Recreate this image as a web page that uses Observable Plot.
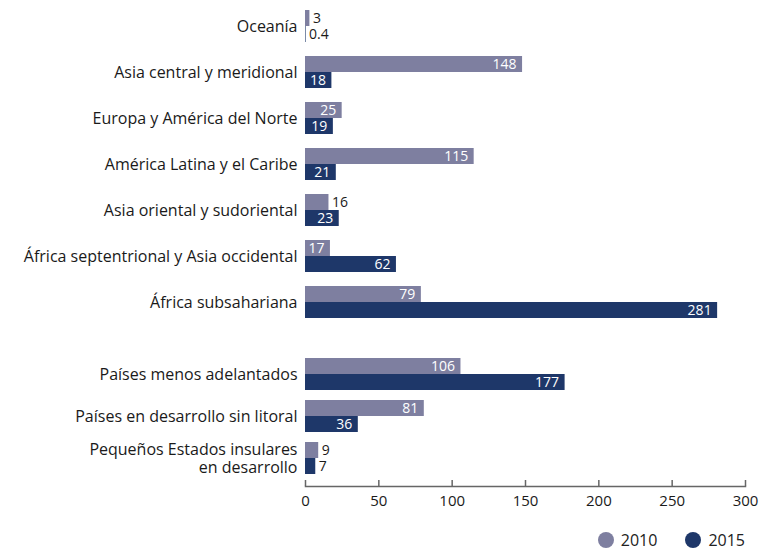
<!DOCTYPE html>
<html>
<head>
<meta charset="utf-8">
<script src="https://cdn.jsdelivr.net/npm/d3@7"></script>
<script src="https://cdn.jsdelivr.net/npm/@observablehq/plot@0.6"></script>
<style>
  body { margin: 0; background: #fff; font-family: "Open Sans", sans-serif; }
  #chart { width: 763px; }
  #chart svg { display: block; overflow: visible; }
  .legend { display: flex; justify-content: flex-end; align-items: center; padding-right: 18px; height: 18px; line-height: 18px; margin-top: 14px; font-size: 16px; color: #222; }
  .legend .item { display: flex; align-items: center; margin-left: 28px; }
  .legend .dot { width: 16px; height: 16px; border-radius: 50%; margin-right: 7px; }
</style>
</head>
<body>
<div id="chart"></div>
<script>
const regions = ["Oceanía", "Asia central y meridional", "Europa y América del Norte", "América Latina y el Caribe", "Asia oriental y sudoriental", "África septentrional y Asia occidental", "África subsahariana"];
const regions2010 = [3, 148, 25, 115, 16, 17, 79];
const regions2015 = [0.4, 18, 19, 21, 23, 62, 281];
const groups = ["Países menos adelantados", "Países en desarrollo sin litoral", "Pequeños Estados insulares\nen desarrollo"];
const groups2010 = [106, 81, 9];
const groups2015 = [177, 36, 7];
const years = ["2010", "2015"];
const colors = ["#7e7fa0", "#1e3769"];
const xTicks = [0, 50, 100, 150, 200, 250, 300];

const FONT = "'Open Sans', sans-serif";

function rowsOf(cats, v10, v15) {
  const rows = [];
  cats.forEach((c, i) => {
    rows.push({cat: c, year: years[0], value: v10[i]});
    rows.push({cat: c, year: years[1], value: v15[i]});
  });
  return rows;
}

function marksFor(cats, rows) {
  const r10 = rows.filter(d => d.year === years[0]);
  const r15 = rows.filter(d => d.year === years[1]);
  const inside = d => d.value >= 17;
  return [
    Plot.barX(r10, {y: "cat", x: "value", fill: colors[0], insetBottom: 16}),
    Plot.barX(r15, {y: "cat", x: "value", fill: colors[1], insetTop: 16}),
    Plot.text(r10.filter(inside), {y: "cat", x: "value", text: d => String(d.value), dy: -8, dx: -6, textAnchor: "end", fill: "white", fontSize: 14}),
    Plot.text(r15.filter(inside), {y: "cat", x: "value", text: d => String(d.value), dy: 8, dx: -6, textAnchor: "end", fill: "white", fontSize: 14}),
    Plot.text(r10.filter(d => !inside(d)), {y: "cat", x: "value", text: d => String(d.value), dy: -8, dx: 3, textAnchor: "start", fill: "#1a1a1a", fontSize: 14}),
    Plot.text(r15.filter(d => !inside(d)), {y: "cat", x: "value", text: d => String(d.value), dy: 8, dx: 3, textAnchor: "start", fill: "#1a1a1a", fontSize: 14}),
    Plot.text(cats, {y: d => d, text: d => d, frameAnchor: "left", textAnchor: "end", dx: -8, fontSize: 16, lineHeight: 1.12, fill: "#1a1a1a", style: "letter-spacing: 0.2px"})
  ];
}

const topChart = Plot.plot({
  width: 763,
  height: 327,
  marginLeft: 305,
  marginRight: 18,
  marginTop: 0,
  marginBottom: 0,
  style: {fontFamily: FONT, background: "transparent"},
  x: {domain: [0, 300], axis: null},
  y: {domain: regions, range: [1, 326], paddingInner: 0.31, paddingOuter: 0.155, axis: null},
  marks: marksFor(regions, rowsOf(regions, regions2010, regions2015))
});

const bottomChart = Plot.plot({
  width: 763,
  height: 190,
  marginLeft: 305,
  marginRight: 18,
  marginTop: 0,
  marginBottom: 31,
  style: {fontFamily: FONT, background: "transparent"},
  x: {domain: [0, 300], axis: null},
  y: {domain: groups, range: [26, 152], paddingInner: 0.238, paddingOuter: 0.119, axis: null},
  marks: [
    ...marksFor(groups, rowsOf(groups, groups2010, groups2015)),
    Plot.frame({anchor: "bottom", stroke: "#666", strokeWidth: 1.5}),
    Plot.axisX(xTicks, {label: null, tickSize: -6, tickPadding: 15, fontSize: 15, stroke: "#666", strokeWidth: 1.5, fill: "#1a1a1a", tickFormat: d => String(d)})
  ]
});

const chart = document.getElementById("chart");
chart.append(topChart, bottomChart);

const legend = document.createElement("div");
legend.className = "legend";
years.forEach((y, i) => {
  const item = document.createElement("div");
  item.className = "item";
  const dot = document.createElement("span");
  dot.className = "dot";
  dot.style.background = colors[i];
  const label = document.createElement("span");
  label.textContent = y;
  item.append(dot, label);
  legend.append(item);
});
chart.append(legend);
</script>
</body>
</html>
